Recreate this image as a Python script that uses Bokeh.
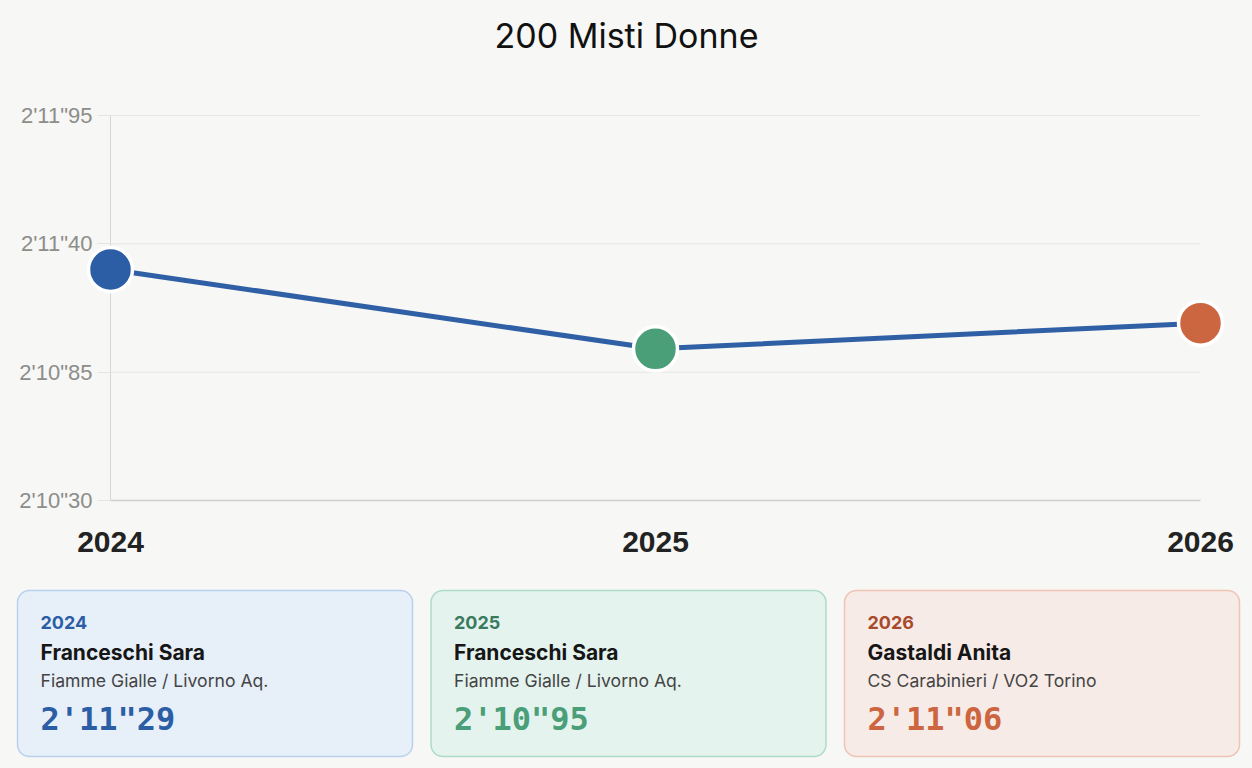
from bokeh.plotting import figure
from bokeh.models import (LinearAxis, FixedTicker, Range1d, BoxAnnotation,
                          ColumnDataSource)
from bokeh.layouts import column
from bokeh.core.properties import value
from bokeh.embed import file_html
from bokeh.resources import INLINE

# ---------------- data ----------------
title = "200 Misti Donne"
years = [2024, 2025, 2026]
x_tick_labels = ["2024", "2025", "2026"]
times_s = [131.29, 130.95, 131.06]            # seconds (2'11"29 = 131.29 s)
time_labels = ["2'11\"29", "2'10\"95", "2'11\"06"]
names = ["Franceschi Sara", "Franceschi Sara", "Gastaldi Anita"]
clubs = ["Fiamme Gialle / Livorno Aq.", "Fiamme Gialle / Livorno Aq.",
         "CS Carabinieri / VO2 Torino"]
y_ticks = [130.30, 130.85, 131.40, 131.95]
y_tick_labels = ["2'10\"30", "2'10\"85", "2'11\"40", "2'11\"95"]

# ---------------- style ----------------
BG = "#f7f7f5"
point_colors = ["#2c5ea5", "#4a9e78", "#cc6640"]
line_color = "#2f5fa5"
card_fill = ["#e7eff8", "#e4f3ee", "#f7ebe7"]
card_line = ["#b9d1ee", "#acdcc8", "#eec4b4"]
year_colors = ["#2c5ea5", "#3a7a5e", "#a84a2c"]

W = 1252
CH = 573
FRAME_TOP = 60.0
PX_PER_YEAR = 545.0
X0 = 110.0
PX_PER_S = 385.0 / 1.65
Y_TOP_PX = 115.0
Y_BOT_PX = 500.0

x_start = years[0] - X0 / PX_PER_YEAR
x_end = years[-1] + (W - X0 - 2 * PX_PER_YEAR) / PX_PER_YEAR
y_end = y_ticks[-1] + (Y_TOP_PX - FRAME_TOP) / PX_PER_S
y_start = y_ticks[0] - (CH - Y_BOT_PX) / PX_PER_S

p = figure(width=W, height=CH, output_backend="svg", toolbar_location=None,
           x_range=Range1d(x_start, x_end), y_range=Range1d(y_start, y_end),
           x_axis_location=None, y_axis_location=None, min_border=0,
           min_border_top=int(FRAME_TOP),
           background_fill_color=BG, border_fill_color=BG, outline_line_color=None)
p.grid.visible = False
p.title.text = title
p.title.align = "center"
p.title.text_font = "Inter"
p.title.text_font_size = "34px"
p.title.text_font_style = "normal"
p.title.text_color = "#111111"

# horizontal grid lines, spanning only the years
grid_y = y_ticks[1:]
p.segment(x0=[years[0]] * len(grid_y), x1=[years[-1]] * len(grid_y), y0=grid_y, y1=grid_y,
          line_color="#e6e6e3", line_width=1, level="underlay")

yaxis = LinearAxis(fixed_location=years[0], bounds=(y_ticks[0], y_ticks[-1]),
                   ticker=FixedTicker(ticks=y_ticks),
                   major_label_overrides=dict(zip(y_ticks, y_tick_labels)),
                   axis_line_color="#d6d6d4", axis_line_width=1,
                   major_tick_in=0, major_tick_out=13, major_tick_line_color="#e4e4e2",
                   minor_tick_line_color=None, major_label_standoff=5,
                   major_label_text_font="Liberation Sans",
                   major_label_text_font_size="22px",
                   major_label_text_color="#8d8d89", level="underlay")
p.add_layout(yaxis, "left")

xaxis = LinearAxis(fixed_location=y_ticks[0], bounds=(years[0], years[-1]),
                   ticker=FixedTicker(ticks=years),
                   major_label_overrides=dict(zip(years, x_tick_labels)),
                   axis_line_color="#cfcfcd", axis_line_width=1.5,
                   major_tick_in=0, major_tick_out=0, minor_tick_line_color=None,
                   major_label_standoff=31,
                   major_label_text_font="Liberation Sans",
                   major_label_text_font_size="30px",
                   major_label_text_font_style="bold",
                   major_label_text_color="#222222", level="underlay")
p.add_layout(xaxis, "below")

src = ColumnDataSource(dict(x=years, y=times_s, c=point_colors))
p.line("x", "y", source=src, line_color=line_color, line_width=5)
p.scatter("x", "y", source=src, size=44, fill_color="c", line_color="white", line_width=3.5)

# ---------------- cards ----------------
KH = 768 - CH
q = figure(width=W, height=KH, output_backend="svg", toolbar_location=None,
           x_range=Range1d(0, W), y_range=Range1d(0, KH),
           x_axis_location=None, y_axis_location=None, min_border=0,
           background_fill_color=BG, border_fill_color=BG, outline_line_color=None)
q.grid.visible = False

card_w = 395.0
pitch = 413.5
lefts = [17 + i * pitch for i in range(len(years))]
for i in range(len(years)):
    q.add_layout(BoxAnnotation(left=lefts[i], right=lefts[i] + card_w, top=178, bottom=12,
                               fill_color=card_fill[i], fill_alpha=1,
                               line_color=card_line[i], line_width=1.5, line_alpha=1,
                               border_radius=12, level="underlay"))

tx = [l + 23 for l in lefts]
csrc = ColumnDataSource(dict(x=tx, year=x_tick_labels, name=names, club=clubs,
                             t=time_labels, yc=year_colors, pc=point_colors))
q.text("x", 146, text="year", source=csrc, text_font=value("Inter"), text_font_size="18px",
       text_font_style="bold", text_color="yc", text_baseline="alphabetic")
q.text("x", 116, text="name", source=csrc, text_font=value("Inter"), text_font_size="21px",
       text_font_style="bold", text_color="#161616", text_baseline="alphabetic")
q.text("x", 88, text="club", source=csrc, text_font=value("Inter"), text_font_size="17.6px",
       text_color="#444444", text_baseline="alphabetic")
q.text("x", 50, text="t", source=csrc, text_font=value("DejaVu Sans Mono"), text_font_size="32px",
       text_font_style="bold", text_color="pc", text_baseline="alphabetic")

layout = column(p, q, spacing=0)
html = file_html(layout, INLINE, title=title)
html = html.replace("<head>", "<head><style>html,body{background:%s;}</style>" % BG, 1)
open("out.html", "w").write(html)
